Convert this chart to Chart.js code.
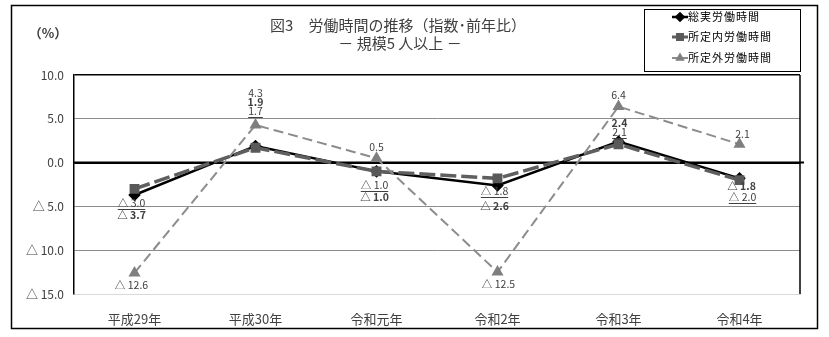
<!DOCTYPE html>
<html lang="ja">
<head>
<meta charset="utf-8">
<title>図3 労働時間の推移</title>
<script src="https://cdn.jsdelivr.net/npm/chart.js@4.4.1/dist/chart.umd.min.js"></script>
<style>
    html, body { margin: 0; padding: 0; background: #fff; }
    #wrap { width: 829px; height: 337px; }
</style>
</head>
<body>
<div id="wrap"><canvas id="laborChart" width="829" height="337"></canvas></div>
<script>
// データ（前年比 %）
const categories = ['平成29年', '平成30年', '令和元年', '令和2年', '令和3年', '令和4年'];
const seriesNames = ['総実労働時間', '所定内労働時間', '所定外労働時間'];
const totalHours = [-3.7, 1.9, -1.0, -2.6, 2.4, -1.8];
const scheduledHours = [-3.0, 1.7, -1.0, -1.8, 2.1, -2.0];
const overtimeHours = [-12.6, 4.3, 0.5, -12.5, 6.4, 2.1];
const yTicks = [10, 5, 0, -5, -10, -15];

const JP_FONT = '"Noto Sans CJK JP", "Noto Sans", sans-serif';

// マイナスは △ 表記
function fmt(v) {
    return v < 0 ? '△ ' + Math.abs(v).toFixed(1) : v.toFixed(1);
}

// ラベル位置の微調整（点からのずれ px）
const labelOffsets = [
    [[-3, 20], [0, -44], [-2, 26], [-3, 21], [1, -19], [2, 8]],
    [[-3, 14], [0, -37], [-2, 14], [-3, 13], [1, -12], [3, 17]],
    [[-3, 12], [0, -32], [0, -11], [1, 12], [0, -12], [3, -10]]
];

const framePlugin = {
    id: 'frame',
    beforeDraw(chart) {
        const c = chart.ctx;
        c.save();
        c.fillStyle = '#fff';
        c.fillRect(0, 0, chart.width, chart.height);
        c.strokeStyle = '#000';
        c.lineWidth = 1.5;
        c.strokeRect(11.5, 5.5, 806, 323);
        c.restore();
    },
    beforeDatasetsDraw(chart) {
        const c = chart.ctx;
        const a = chart.chartArea;
        const y0 = chart.scales.y.getPixelForValue(0);
        c.save();
        c.strokeStyle = '#000';
        c.lineWidth = 2;
        c.beginPath();
        c.moveTo(a.left, y0);
        c.lineTo(a.right + 4, y0);
        c.stroke();
        // 右枠
        c.lineWidth = 1.5;
        c.beginPath();
        c.moveTo(a.right, a.top);
        c.lineTo(a.right, a.bottom);
        c.stroke();
        c.restore();
    },
    afterDraw(chart) {
        const c = chart.ctx;
        c.save();
        // タイトル
        c.fillStyle = '#404040';
        c.textAlign = 'center';
        c.textBaseline = 'middle';
        c.font = '15px ' + JP_FONT;
        c.fillText('図3　労働時間の推移（指数･前年比）', 398, 25);
        c.fillText('－ 規模5 人以上 －', 400, 43);
        c.font = 'bold 13px ' + JP_FONT;
        c.fillText('（%）', 48, 33);

        // 凡例
        c.strokeStyle = '#000';
        c.lineWidth = 1;
        c.strokeRect(644.5, 9.5, 156, 62);
        const rows = [17, 37, 58];
        chart.data.datasets.forEach((ds, i) => {
            const y = rows[i];
            c.strokeStyle = ds.borderColor;
            c.lineWidth = Math.min(ds.borderWidth, 3);
            c.setLineDash([]);
            c.beginPath();
            c.moveTo(672, y);
            c.lineTo(688, y);
            c.stroke();
            c.fillStyle = ds.pointBackgroundColor;
            c.strokeStyle = ds.pointBackgroundColor;
            Chart.helpers.drawPoint(c, {pointStyle: ds.pointStyle, radius: 3.5, rotation: 0, borderWidth: 1}, 680, y);
            c.fillStyle = '#000';
            c.textAlign = 'left';
            c.font = '11px ' + JP_FONT;
            c.letterSpacing = '1px';
            c.fillText(ds.label, 688, y);
            c.letterSpacing = '0px';
        });

        // データラベル
        c.textAlign = 'center';
        chart.data.datasets.forEach((ds, i) => {
            const meta = chart.getDatasetMeta(i);
            c.font = (i === 0 ? 'bold ' : '') + '10.5px ' + JP_FONT;
            c.fillStyle = '#404040';
            meta.data.forEach((pt, j) => {
                const txt = fmt(ds.data[j]);
                const x = pt.x + labelOffsets[i][j][0];
                const y = pt.y + labelOffsets[i][j][1];
                c.fillText(txt, x, y);
                if (i === 1) {
                    const w = c.measureText(txt).width;
                    c.strokeStyle = '#404040';
                    c.lineWidth = 1;
                    c.beginPath();
                    c.moveTo(x - w / 2, Math.round(y + 6) + 0.5);
                    c.lineTo(x + w / 2, Math.round(y + 6) + 0.5);
                    c.stroke();
                }
            });
        });
        c.restore();
    }
};

const ctx = document.getElementById('laborChart');

new Chart(ctx, {
    type: 'line',
    data: {
        labels: categories,
        datasets: [{
            label: seriesNames[0],
            data: totalHours,
            borderColor: '#000',
            borderWidth: 2.5,
            pointStyle: 'rectRot',
            pointRadius: 4.5,
            pointBackgroundColor: '#000',
            pointBorderColor: '#000',
            order: 3
        }, {
            label: seriesNames[1],
            data: scheduledHours,
            borderColor: '#5f5f5f',
            borderWidth: 3.5,
            borderDash: [16, 5],
            pointStyle: 'rect',
            pointRadius: 4.5,
            pointBackgroundColor: '#595959',
            pointBorderColor: '#595959',
            order: 2
        }, {
            label: seriesNames[2],
            data: overtimeHours,
            borderColor: '#8c8c8c',
            borderWidth: 2,
            borderDash: [10, 5],
            pointStyle: 'triangle',
            pointRadius: 5,
            pointBackgroundColor: '#7f7f7f',
            pointBorderColor: '#7f7f7f',
            order: 1
        }]
    },
    options: {
        responsive: false,
        animation: false,
        layout: {
            padding: { top: 75, right: 29, left: 0, bottom: 0 }
        },
        plugins: {
            legend: { display: false },
            title: { display: false },
            tooltip: { enabled: false }
        },
        scales: {
            x: {
                offset: true,
                afterFit: (s) => { s.height = 43; },
                grid: { display: false },
                border: { display: true, color: '#d9d9d9', width: 1 },
                ticks: {
                    color: '#404040',
                    padding: 9,
                    font: { family: JP_FONT, size: 13 }
                }
            },
            y: {
                min: -15,
                max: 10,
                afterFit: (s) => { s.width = 74; },
                afterBuildTicks: (s) => { s.ticks = yTicks.map(v => ({ value: v })); },
                border: { display: true, color: '#000', width: 1.5 },
                grid: {
                    drawTicks: false,
                    color: (c) => {
                        const v = c.tick ? c.tick.value : null;
                        if (v === 10 || v === 0) return '#000';
                        if (v === -15) return '#d9d9d9';
                        return '#8c8c8c';
                    },
                    lineWidth: (c) => {
                        const v = c.tick ? c.tick.value : null;
                        if (v === 0) return 2;
                        if (v === 10) return 1.5;
                        return 1;
                    }
                },
                ticks: {
                    color: '#404040',
                    padding: 10,
                    font: { family: JP_FONT, size: 12 },
                    callback: (v) => fmt(v)
                }
            }
        }
    },
    plugins: [framePlugin]
});
</script>
</body>
</html>
